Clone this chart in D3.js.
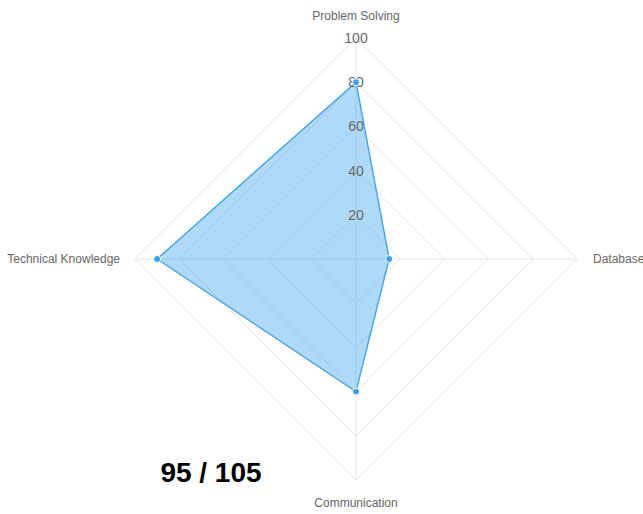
<!DOCTYPE html>
<html>
<head>
<meta charset="utf-8">
<script src="https://cdn.jsdelivr.net/npm/d3@7"></script>
<style>
  body { margin: 0; background: #fff; }
  svg { display: block; font-family: "Helvetica Neue", Helvetica, Arial, "Liberation Sans", sans-serif; }
</style>
</head>
<body>
<div id="chart"></div>
<script>
// Radar chart data
const skills = ['Problem Solving', 'Database', 'Communication', 'Technical Knowledge'];
const scores = [80, 15, 60, 90];
const tickValues = [20, 40, 60, 80, 100];
const scoreText = '95 / 105';

const W = 643, H = 514;
const cx = 356, cy = 259, radius = 221;

const svg = d3.select('#chart').append('svg')
    .attr('width', W)
    .attr('height', H);

const g = svg.append('g').attr('transform', `translate(${cx},${cy})`);

const r = d3.scaleLinear().domain([0, 100]).range([0, radius]);
const angle = d3.scaleLinear().domain([0, skills.length]).range([0, 2 * Math.PI]);

const pt = (i, v) => {
    const a = angle(i) - Math.PI / 2;
    return [Math.cos(a) * r(v), Math.sin(a) * r(v)];
};

// Grid rings
const ring = d3.line().curve(d3.curveLinearClosed);
g.selectAll('.ring')
    .data(tickValues)
    .join('path')
    .attr('class', 'ring')
    .attr('d', v => ring(skills.map((_, i) => pt(i, v))))
    .attr('fill', 'none')
    .attr('stroke', '#e6e6e6')
    .attr('stroke-width', 1);

// Spokes
g.selectAll('.spoke')
    .data(skills)
    .join('line')
    .attr('class', 'spoke')
    .attr('x1', 0).attr('y1', 0)
    .attr('x2', (d, i) => pt(i, 100)[0])
    .attr('y2', (d, i) => pt(i, 100)[1])
    .attr('stroke', '#e6e6e6')
    .attr('stroke-width', 1);

// Data area
const area = skills.map((_, i) => pt(i, scores[i]));
g.append('path')
    .attr('d', ring(area))
    .attr('fill', 'rgba(54,162,235,0.4)')
    .attr('stroke', '#4aa8ec')
    .attr('stroke-width', 1.5);

// Tick labels
g.selectAll('.tick-label')
    .data(tickValues)
    .join('text')
    .attr('class', 'tick-label')
    .attr('x', 0)
    .attr('y', v => -r(v))
    .attr('text-anchor', 'middle')
    .attr('dominant-baseline', 'central')
    .attr('font-size', 14)
    .attr('fill', '#666')
    .text(d => d);

// Points
g.selectAll('.dot')
    .data(scores)
    .join('circle')
    .attr('class', 'dot')
    .attr('cx', (d, i) => pt(i, d)[0])
    .attr('cy', (d, i) => pt(i, d)[1])
    .attr('r', 3.5)
    .attr('fill', '#36a2eb')
    .attr('stroke', '#fff')
    .attr('stroke-width', 1);

// Axis labels
const labelPos = [
    { x: 0, y: -r(100) - 22, anchor: 'middle' },
    { x: r(100) + 16, y: 0, anchor: 'start' },
    { x: 0, y: r(100) + 23, anchor: 'middle' },
    { x: -r(100) - 15, y: 0, anchor: 'end' }
];
g.selectAll('.axis-label')
    .data(skills)
    .join('text')
    .attr('class', 'axis-label')
    .attr('x', (d, i) => labelPos[i].x)
    .attr('y', (d, i) => labelPos[i].y)
    .attr('text-anchor', (d, i) => labelPos[i].anchor)
    .attr('dominant-baseline', 'central')
    .attr('font-size', 12)
    .attr('fill', '#666')
    .text(d => d);

// Score text
svg.append('text')
    .attr('x', 211)
    .attr('y', 472)
    .attr('text-anchor', 'middle')
    .attr('dominant-baseline', 'central')
    .attr('font-size', 28)
    .attr('font-weight', 'bold')
    .attr('fill', '#000')
    .text(scoreText);
</script>
</body>
</html>
